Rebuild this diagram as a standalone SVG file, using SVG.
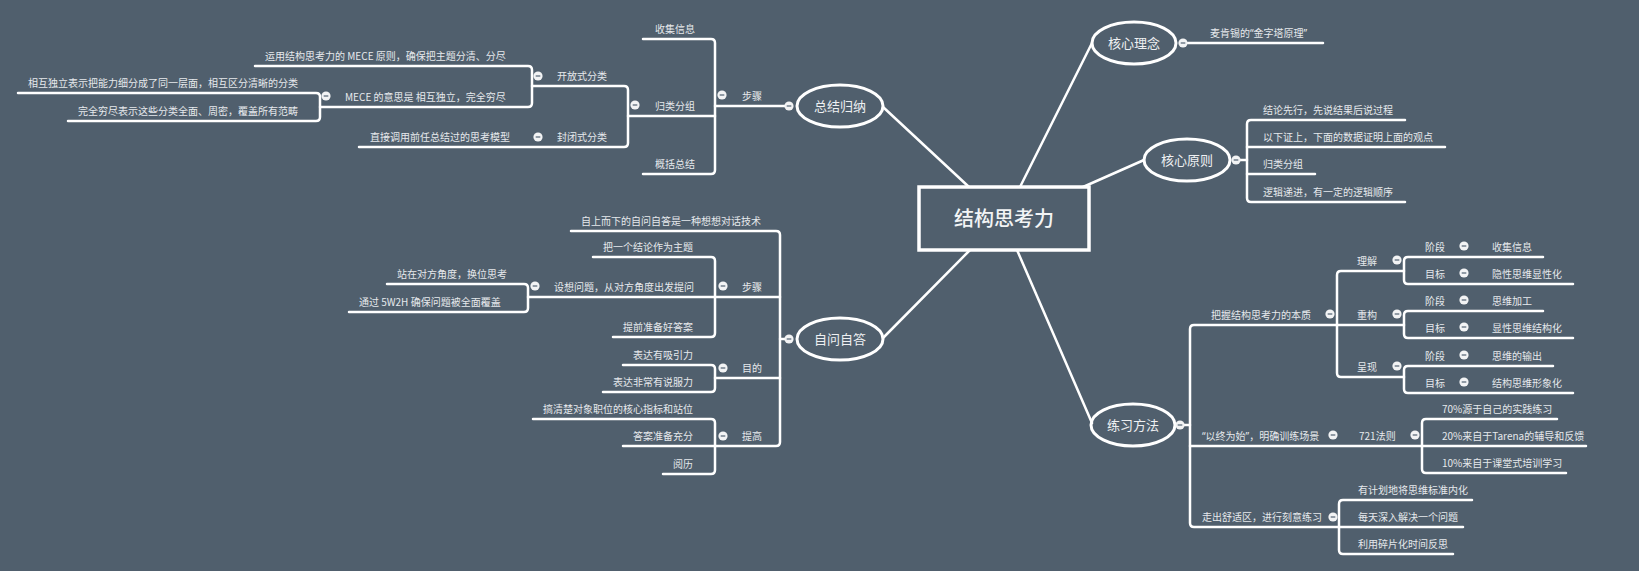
<svg xmlns="http://www.w3.org/2000/svg" width="1639" height="571" viewBox="0 0 1639 571">
<defs>
<style>
.ln{stroke:#ffffff;stroke-width:2.5;fill:none;stroke-linecap:round;stroke-linejoin:round}
.br{stroke:#ffffff;stroke-width:3;fill:none}
.t{font-family:"Noto Sans CJK SC","Noto Sans",sans-serif;font-size:10px;fill:#e6e9ec}
.q{font-family:"Noto Sans","Noto Sans CJK SC",sans-serif}
.tm{font-family:"Noto Sans CJK SC","Noto Sans",sans-serif;font-size:13px;fill:#eef0f2;text-anchor:middle}
.tc{font-family:"Noto Sans CJK SC","Noto Sans",sans-serif;font-size:20px;fill:#f2f4f5;text-anchor:middle;font-weight:500}
.cb{fill:#f2f3f4}
.mi{stroke:#5b6b7b;stroke-width:1.3}
</style>
<g id="collapse">
<circle class="cb" cx="0" cy="0" r="4.6"/>
<line class="mi" x1="-2.3" y1="0" x2="2.3" y2="0"/>
</g>
</defs>
<rect x="0" y="0" width="1639" height="571" fill="#505f6d"/>

<g id="connectors">
<path class="ln" d="M1020,187 L1092,43"/>
<path class="ln" d="M1083,187 L1144,160"/>
<path class="ln" d="M969,187 L883,107"/>
<path class="ln" d="M970,250 L883,338"/>
<path class="ln" d="M1017,250 L1092,423"/>
</g>

<g id="center">
<rect x="919" y="187" width="170" height="63" fill="#505f6d" stroke="#ffffff" stroke-width="3.5"/>
<text class="tc" x="1004" y="226">结构思考力</text>
</g>

<g id="zongjie">
<ellipse class="br" cx="840" cy="106" rx="43" ry="21"/>
<text class="tm" x="840" y="111">总结归纳</text>
<path class="ln" d="M786,106 L715,106"/>
<use href="#collapse" x="789" y="106"/>
<path class="ln" d="M643,39 L711,39 Q715,39 715,43 L715,170 Q715,174 711,174 L643,174"/>
<path class="ln" d="M628,116 L715,116"/>
<text class="t" x="742" y="100">步骤</text>
<use href="#collapse" x="722" y="95"/>
<text class="t" x="655" y="33">收集信息</text>
<text class="t" x="655" y="110">归类分组</text>
<text class="t" x="655" y="168">概括总结</text>
<use href="#collapse" x="635" y="105"/>
<path class="ln" d="M532,86 L624,86 Q628,86 628,90 L628,143 Q628,147 624,147 L359,147"/>
<text class="t" x="557" y="80">开放式分类</text>
<use href="#collapse" x="538" y="76"/>
<text class="t" x="557" y="141">封闭式分类</text>
<use href="#collapse" x="538" y="137"/>
<text class="t" x="370" y="141">直接调用前任总结过的思考模型</text>
<path class="ln" d="M255,66 L528,66 Q532,66 532,70 L532,103 Q532,107 528,107 L320,107"/>
<text class="t" x="265" y="60">运用结构思考力的 MECE 原则，确保把主题分清、分尽</text>
<text class="t" x="345" y="101">MECE 的意思是 相互独立，完全穷尽</text>
<use href="#collapse" x="326" y="96"/>
<path class="ln" d="M18,93 L316,93 Q320,93 320,97 L320,117 Q320,121 316,121 L68,121"/>
<text class="t" x="28" y="87">相互独立表示把能力细分成了同一层面，相互区分清晰的分类</text>
<text class="t" x="78" y="115">完全穷尽表示这些分类全面、周密，覆盖所有范畴</text>
</g>

<g id="ziwen">
<ellipse class="br" cx="840" cy="339" rx="43" ry="21"/>
<text class="tm" x="840" y="344">自问自答</text>
<path class="ln" d="M786,339 L780,339"/>
<use href="#collapse" x="789" y="339"/>
<path class="ln" d="M571,231 L776,231 Q780,231 780,235 L780,442 Q780,446 776,446 L623,446"/>
<text class="t" x="581" y="225">自上而下的自问自答是一种想想对话技术</text>
<path class="ln" d="M528,297 L780,297"/>
<text class="t" x="742" y="291">步骤</text>
<use href="#collapse" x="723" y="286"/>
<path class="ln" d="M593,257 L711,257 Q715,257 715,261 L715,333 Q715,337 711,337 L613,337"/>
<text class="t" x="603" y="251">把一个结论作为主题</text>
<text class="t" x="554" y="291">设想问题，从对方角度出发提问</text>
<use href="#collapse" x="535" y="286"/>
<text class="t" x="623" y="331">提前准备好答案</text>
<path class="ln" d="M387,284 L524,284 Q528,284 528,288 L528,308 Q528,312 524,312 L349,312"/>
<text class="t" x="397" y="278">站在对方角度，换位思考</text>
<text class="t" x="359" y="306">通过 5W2H 确保问题被全面覆盖</text>
<path class="ln" d="M715,378 L780,378"/>
<text class="t" x="742" y="372">目的</text>
<use href="#collapse" x="723" y="368"/>
<path class="ln" d="M623,365 L711,365 Q715,365 715,369 L715,388 Q715,392 711,392 L603,392"/>
<text class="t" x="633" y="359">表达有吸引力</text>
<text class="t" x="613" y="386">表达非常有说服力</text>
<text class="t" x="742" y="440">提高</text>
<use href="#collapse" x="723" y="436"/>
<path class="ln" d="M533,419 L711,419 Q715,419 715,423 L715,470 Q715,474 711,474 L663,474"/>
<text class="t" x="543" y="413">搞清楚对象职位的核心指标和站位</text>
<text class="t" x="633" y="440">答案准备充分</text>
<text class="t" x="673" y="468">阅历</text>
</g>

<g id="linian">
<ellipse class="br" cx="1134" cy="43" rx="42" ry="21"/>
<text class="tm" x="1134" y="48">核心理念</text>
<path class="ln" d="M1188,43 L1323,43"/>
<use href="#collapse" x="1183" y="43"/>
<text class="t" x="1210" y="37">麦肯锡的<tspan class="q">“</tspan>金字塔原理<tspan class="q">”</tspan></text>
</g>

<g id="yuanze">
<ellipse class="br" cx="1187" cy="160" rx="43" ry="21"/>
<text class="tm" x="1187" y="165">核心原则</text>
<path class="ln" d="M1240,160 L1247,160"/>
<use href="#collapse" x="1236" y="160"/>
<path class="ln" d="M1405,120 L1251,120 Q1247,120 1247,124 L1247,198 Q1247,202 1251,202 L1405,202"/>
<path class="ln" d="M1247,147 L1445,147"/>
<path class="ln" d="M1247,174 L1315,174"/>
<text class="t" x="1263" y="114">结论先行，先说结果后说过程</text>
<text class="t" x="1263" y="141">以下证上，下面的数据证明上面的观点</text>
<text class="t" x="1263" y="168">归类分组</text>
<text class="t" x="1263" y="196">逻辑递进，有一定的逻辑顺序</text>
</g>

<g id="lianxi">
<ellipse class="br" cx="1133" cy="425" rx="42" ry="21"/>
<text class="tm" x="1133" y="430">练习方法</text>
<path class="ln" d="M1184,425 L1190,425"/>
<use href="#collapse" x="1180" y="425"/>
<path class="ln" d="M1337,325 L1194,325 Q1190,325 1190,329 L1190,523 Q1190,527 1194,527 L1339,527"/>
<path class="ln" d="M1190,446 L1422,446"/>
<text class="t" x="1211" y="319">把握结构思考力的本质</text>
<use href="#collapse" x="1330" y="314"/>
<path class="ln" d="M1404,271 L1341,271 Q1337,271 1337,275 L1337,373 Q1337,377 1341,377 L1404,377"/>
<path class="ln" d="M1337,325 L1404,325"/>
<text class="t" x="1357" y="265">理解</text>
<use href="#collapse" x="1397" y="260"/>
<text class="t" x="1357" y="319">重构</text>
<use href="#collapse" x="1397" y="314"/>
<text class="t" x="1357" y="371">呈现</text>
<use href="#collapse" x="1397" y="366"/>

<path class="ln" d="M1543,257 L1408,257 Q1404,257 1404,261 L1404,280 Q1404,284 1408,284 L1573,284"/>
<text class="t" x="1425" y="251">阶段</text>
<use href="#collapse" x="1464" y="246"/>
<text class="t" x="1492" y="251">收集信息</text>
<text class="t" x="1425" y="278">目标</text>
<use href="#collapse" x="1464" y="273"/>
<text class="t" x="1492" y="278">隐性思维显性化</text>

<path class="ln" d="M1543,311 L1408,311 Q1404,311 1404,315 L1404,334 Q1404,338 1408,338 L1573,338"/>
<text class="t" x="1425" y="305">阶段</text>
<use href="#collapse" x="1464" y="300"/>
<text class="t" x="1492" y="305">思维加工</text>
<text class="t" x="1425" y="332">目标</text>
<use href="#collapse" x="1464" y="327"/>
<text class="t" x="1492" y="332">显性思维结构化</text>

<path class="ln" d="M1553,366 L1408,366 Q1404,366 1404,370 L1404,389 Q1404,393 1408,393 L1573,393"/>
<text class="t" x="1425" y="360">阶段</text>
<use href="#collapse" x="1464" y="355"/>
<text class="t" x="1492" y="360">思维的输出</text>
<text class="t" x="1425" y="387">目标</text>
<use href="#collapse" x="1464" y="382"/>
<text class="t" x="1492" y="387">结构思维形象化</text>

<text class="t" x="1202" y="440"><tspan class="q">“</tspan>以终为始<tspan class="q">”</tspan>，明确训练场景</text>
<use href="#collapse" x="1333" y="435"/>
<text class="t" x="1359" y="440">721法则</text>
<use href="#collapse" x="1415" y="435"/>
<path class="ln" d="M1557,419 L1426,419 Q1422,419 1422,423 L1422,469 Q1422,473 1426,473 L1566,473"/>
<path class="ln" d="M1422,446 L1586,446"/>
<text class="t" x="1442" y="413">70%源于自己的实践练习</text>
<text class="t" x="1442" y="440">20%来自于Tarena的辅导和反馈</text>
<text class="t" x="1442" y="467">10%来自于课堂式培训学习</text>

<text class="t" x="1202" y="521">走出舒适区，进行刻意练习</text>
<use href="#collapse" x="1333" y="517"/>
<path class="ln" d="M1472,500 L1343,500 Q1339,500 1339,504 L1339,550 Q1339,554 1343,554 L1453,554"/>
<path class="ln" d="M1339,527 L1463,527"/>
<text class="t" x="1358" y="494">有计划地将思维标准内化</text>
<text class="t" x="1358" y="521">每天深入解决一个问题</text>
<text class="t" x="1358" y="548">利用碎片化时间反思</text>
</g>
</svg>
